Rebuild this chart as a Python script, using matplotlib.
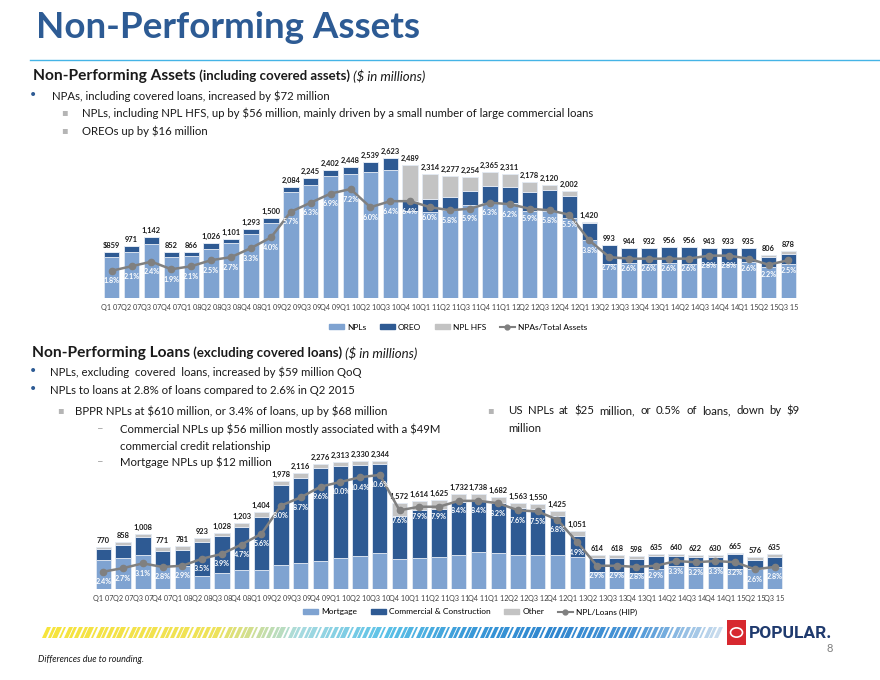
import numpy as np
import matplotlib
matplotlib.use('Agg')
import matplotlib.pyplot as plt
from matplotlib.patches import Rectangle, Polygon, Patch, Circle
from matplotlib.lines import Line2D
from matplotlib.colors import LinearSegmentedColormap

plt.rcParams['font.family'] = ['Lato', 'DejaVu Sans']
plt.rcParams['text.parse_math'] = False

# Dados (US$ milhões)
quarters = ['Q1 07', 'Q2 07', 'Q3 07', 'Q4 07', 'Q1 08', 'Q2 08', 'Q3 08', 'Q4 08',
            'Q1 09', 'Q2 09', 'Q3 09', 'Q4 09', 'Q1 10', 'Q2 10', 'Q3 10', 'Q4 10',
            'Q1 11', 'Q2 11', 'Q3 11', 'Q4 11', 'Q1 12', 'Q2 12', 'Q3 12', 'Q4 12',
            'Q1 13', 'Q2 13', 'Q3 13', 'Q4 13', 'Q1 14', 'Q2 14', 'Q3 14', 'Q4 14',
            'Q1 15', 'Q2 15', 'Q3 15']

# grafico 1: NPAs (incluindo ativos cobertos)
npa_total = [859, 971, 1142, 852, 866, 1026, 1101, 1293, 1500, 2084, 2245, 2402,
             2448, 2539, 2623, 2489, 2314, 2277, 2254, 2365, 2311, 2178, 2120, 2002,
             1420, 993, 944, 932, 956, 956, 943, 933, 935, 806, 878]
npls = [770, 858, 1008, 771, 781, 923, 1028, 1203, 1404, 1978, 2116, 2276,
        2313, 2350, 2395, 1630, 1617, 1655, 1731, 1774, 1769, 1636, 1620, 1500,
        1080, 645, 647, 630, 653, 641, 628, 632, 678, 578, 641]
oreo = [89, 113, 134, 81, 85, 103, 73, 90, 96, 106, 129, 126,
        135, 189, 228, 187, 230, 230, 261, 323, 299, 355, 394, 407,
        320, 342, 292, 298, 299, 311, 311, 297, 253, 186, 187]
npl_hfs = [0, 0, 0, 0, 0, 0, 0, 0, 0, 0, 0, 0,
           0, 0, 0, 672, 467, 392, 262, 268, 243, 187, 106, 95,
           20, 6, 5, 4, 4, 4, 4, 4, 4, 42, 50]
npa_ratio = [1.8, 2.1, 2.4, 1.9, 2.1, 2.5, 2.7, 3.3, 4.0, 5.7, 6.3, 6.9,
             7.2, 6.0, 6.4, 6.4, 6.0, 5.8, 5.9, 6.3, 6.2, 5.9, 5.8, 5.5,
             3.8, 2.7, 2.6, 2.6, 2.6, 2.6, 2.8, 2.8, 2.6, 2.2, 2.5]

# grafico 2: NPLs (excluindo empréstimos cobertos)
npl_total = [770, 858, 1008, 771, 781, 923, 1028, 1203, 1404, 1978, 2116, 2276,
             2313, 2330, 2344, 1572, 1614, 1625, 1732, 1738, 1682, 1563, 1550, 1425,
             1051, 614, 618, 598, 635, 640, 622, 630, 665, 576, 635]
mortgage = [524, 566, 621, 414, 414, 244, 292, 341, 353, 438, 481, 512,
            560, 609, 664, 542, 572, 591, 615, 682, 664, 621, 621, 621,
            591, 305, 305, 292, 365, 426, 402, 402, 365, 365, 396]
commercial = [201, 244, 329, 286, 305, 615, 682, 792, 971, 1462, 1547, 1693,
              1693, 1657, 1620, 798, 871, 865, 980, 932, 901, 853, 834, 713,
              378, 256, 256, 256, 231, 170, 183, 189, 274, 170, 189]
other = [45, 48, 58, 71, 62, 64, 54, 70, 80, 78, 88, 71,
         60, 64, 60, 232, 171, 169, 137, 124, 117, 89, 95, 91,
         82, 53, 57, 50, 39, 44, 37, 39, 26, 41, 50]
npl_ratio = [2.4, 2.7, 3.1, 2.8, 2.9, 3.5, 3.9, 4.7, 5.6, 8.0, 8.7, 9.6,
             10.0, 10.4, 10.6, 7.6, 7.9, 7.9, 8.4, 8.4, 8.2, 7.6, 7.5, 6.8,
             4.9, 2.9, 2.9, 2.8, 2.9, 3.3, 3.2, 3.3, 3.2, 2.6, 2.8]

LIGHT = '#7fa3d1'
DARK = '#2e5a93'
GREY = '#c3c3c3'
LINE = '#808080'
NAVY = '#2d5b94'
TXT = '#1a1a1a'
FS = 8.2  # texto dos bullets

W, H = 880, 680
fig = plt.figure(figsize=(8.8, 6.8), dpi=100)
rend = fig.canvas.get_renderer()


def fx(x):
    return x / W


def fy(y):
    return 1 - y / H


def texto(x, y, partes):
    # escreve pedaços de texto um depois do outro
    for s, kw in partes:
        t = fig.text(fx(x), fy(y), s, va='center', ha='left', **kw)
        x += t.get_window_extent(rend).width


def justificado(x0, x1, y, s, **kw):
    # espalha as palavras entre x0 e x1
    palavras = s.split()
    ts = [fig.text(fx(x0), fy(y), p, va='center', ha='left', **kw) for p in palavras]
    larg = [t.get_window_extent(rend).width for t in ts]
    gap = (x1 - x0 - sum(larg)) / (len(ts) - 1)
    x = x0
    for t, w in zip(ts, larg):
        t.set_x(fx(x))
        x += w + gap


def grafico(left, right, base, top, ymax, sec_lim, baixo, meio, cima, rotulos, pct):
    ax = fig.add_axes([fx(left), fy(base), fx(right - left), (base - top) / H])
    x = np.arange(len(quarters))
    baixo = np.array(baixo)
    meio = np.array(meio)
    cima = np.array(cima)
    kw = dict(width=0.78, edgecolor='#e3eaf4', linewidth=0.6)
    ax.bar(x, baixo, color=LIGHT, **kw)
    ax.bar(x, meio, bottom=baixo, color=DARK, **kw)
    ax.bar(x, cima, bottom=baixo + meio, color=GREY, **kw)
    for xi, s, lab in zip(x, baixo + meio + cima, rotulos):
        ax.annotate(lab, (xi, s), xytext=(0, 3), textcoords='offset pixels',
                    ha='center', va='bottom', fontsize=5.4, fontweight='bold', color=TXT)
    ax.set_xlim(-0.6, len(quarters) - 0.4)
    ax.set_ylim(0, ymax)
    ax.set_xticks(x, quarters, fontsize=5.2, color='#404040')
    ax.tick_params(axis='x', length=0, pad=4)
    ax.set_yticks([])
    for sp in ax.spines.values():
        sp.set_visible(False)

    ax2 = ax.twinx()
    ax2.plot(x, pct, color=LINE, lw=1.8, marker='o', ms=4.5, zorder=3)
    ax2.set_ylim(*sec_lim)
    for xi, p in zip(x, pct):
        ax2.annotate(f'{p:.1f}%', (xi, p), xytext=(0, -10), textcoords='offset pixels',
                     ha='center', va='center', fontsize=5.2, fontweight='bold', color='white')
    ax2.axis('off')
    return ax


# Titulo
fig.text(fx(36), fy(28), 'Non-Performing Assets', fontsize=26.5, fontweight='bold',
         color=NAVY, va='center')
fig.add_artist(Line2D([fx(30), fx(880)], [fy(60), fy(60)], color='#45b4e6', lw=1))

# Bloco 1
texto(33, 76, [('Non-Performing Assets', dict(fontsize=11.2, fontweight='bold', color=TXT)),
               (' (including covered assets)', dict(fontsize=9.5, fontweight='bold', color=TXT)),
               (' ($ in millions)', dict(fontsize=9.5, style='italic', color=TXT))])
fig.text(fx(29), fy(95), '•', fontsize=10, color=NAVY, va='center', family='DejaVu Sans')
fig.text(fx(52), fy(96), 'NPAs, including covered loans, increased by $72 million',
         fontsize=FS, color=TXT, va='center')
for yy, s in [(113, 'NPLs, including NPL HFS, up by $56 million, mainly driven by a small number of large commercial loans'),
              (131, 'OREOs up by $16 million')]:
    fig.text(fx(61), fy(yy - 1), '▪', fontsize=7, color='#b5b5b5', va='center', family='DejaVu Sans')
    fig.text(fx(82), fy(yy), s, fontsize=FS, color=TXT, va='center')

labels_npa = ['$859'] + [f'{v:,}' for v in npa_total[1:]]
ax_top = grafico(99.7, 800.4, 298, 140, 2955, (0, 2955 / 283.0),
                 npls, oreo, npl_hfs, labels_npa, npa_ratio)

fig.legend([Patch(color=LIGHT), Patch(color=DARK), Patch(color=GREY),
            Line2D([], [], color=LINE, marker='o', ms=3.5, lw=1.5)],
           ['NPLs', 'OREO', 'NPL HFS', 'NPAs/Total Assets'],
           loc='center', bbox_to_anchor=(fx(458), fy(327)), ncol=4, frameon=False,
           fontsize=6, handlelength=1.8, handleheight=0.5, columnspacing=1.6,
           handletextpad=0.4)

# Bloco 2
texto(32, 353, [('Non-Performing Loans', dict(fontsize=11.2, fontweight='bold', color=TXT)),
                (' (excluding covered loans)', dict(fontsize=9.5, fontweight='bold', color=TXT)),
                (' ($ in millions)', dict(fontsize=9.5, style='italic', color=TXT))])
for yy, s in [(372, 'NPLs, excluding  covered  loans, increased by $59 million QoQ'),
              (390, 'NPLs to loans at 2.8% of loans compared to 2.6% in Q2 2015')]:
    fig.text(fx(29), fy(yy - 1), '•', fontsize=10, color=NAVY, va='center', family='DejaVu Sans')
    fig.text(fx(50), fy(yy), s, fontsize=FS, color=TXT, va='center')

fig.text(fx(57), fy(410), '▪', fontsize=7, color='#b5b5b5', va='center', family='DejaVu Sans')
fig.text(fx(75), fy(411), 'BPPR NPLs at $610 million, or 3.4% of loans, up by $68 million',
         fontsize=FS, color=TXT, va='center')
fig.text(fx(97), fy(429), '–', fontsize=FS, color='#a0a0a0', va='center')
fig.text(fx(120), fy(429), 'Commercial NPLs up $56 million mostly associated with a $49M',
         fontsize=FS, color=TXT, va='center')
fig.text(fx(120), fy(446), 'commercial credit relationship', fontsize=FS, color=TXT, va='center')
fig.text(fx(97), fy(462), '–', fontsize=FS, color='#a0a0a0', va='center')
fig.text(fx(120), fy(462), 'Mortgage NPLs up $12 million', fontsize=FS, color=TXT, va='center')

fig.text(fx(487), fy(410), '▪', fontsize=7, color='#b5b5b5', va='center', family='DejaVu Sans')
justificado(508, 800, 411, 'US NPLs at $25 million, or 0.5% of loans, down by $9',
            fontsize=FS, color=TXT)
fig.text(fx(508), fy(429), 'million', fontsize=FS, color=TXT, va='center')

labels_npl = [f'{v:,}' for v in npl_total]
ax_bot = grafico(91.5, 786.5, 589, 447, 142 * 18.27, (0.93, 0.93 + 142 / 11.8),
                 mortgage, commercial, other, labels_npl, npl_ratio)

fig.legend([Patch(color=LIGHT), Patch(color=DARK), Patch(color=GREY),
            Line2D([], [], color=LINE, marker='o', ms=3.5, lw=1.5)],
           ['Mortgage', 'Commercial & Construction', 'Other', 'NPL/Loans (HIP)'],
           loc='center', bbox_to_anchor=(fx(470), fy(612)), ncol=4, frameon=False,
           fontsize=6, handlelength=1.8, handleheight=0.5, columnspacing=1.6,
           handletextpad=0.4)

# Faixa decorativa do rodapé
cmap = LinearSegmentedColormap.from_list(
    'faixa', ['#f6e43c', '#f3e24a', '#eee25a', '#a8dbe0', '#5cc2e8', '#3a9ad8',
              '#2f86cf', '#4a95d6', '#c9dcee'])
larg = [4, 3, 5, 2, 4, 3]
gaps = [2, 1, 2, 3, 1, 2]
xs, i = 42, 0
while xs < 716:
    w = larg[i % len(larg)]
    c = cmap((xs - 42) / 674)
    poly = Polygon([(fx(xs + 5), fy(627)), (fx(xs + 5 + w), fy(627)),
                    (fx(xs + w), fy(638)), (fx(xs), fy(638))],
                   closed=True, transform=fig.transFigure, color=c, lw=0)
    fig.add_artist(poly)
    xs += w + gaps[i % len(gaps)]
    i += 1

# Logo
fig.add_artist(Rectangle((fx(727), fy(645)), fx(19), 25 / H, transform=fig.transFigure,
                         color='#d7282f', lw=0))
fig.add_artist(Circle((fx(736.5), fy(632.5)), 6 / W, transform=fig.transFigure,
                      fill=False, ec='white', lw=1.2))
fig.text(fx(749), fy(633), 'POPULAR.', fontsize=12.5, fontweight='bold', color='#1f3a6e',
         va='center', family='Roboto')
fig.text(fx(826), fy(648), '8', fontsize=8, color='#7f7f7f', va='center')
fig.text(fx(38), fy(659), 'Differences due to rounding.', fontsize=6.5, style='italic',
         color=TXT, va='center')

fig.savefig('out.png', dpi=100)
